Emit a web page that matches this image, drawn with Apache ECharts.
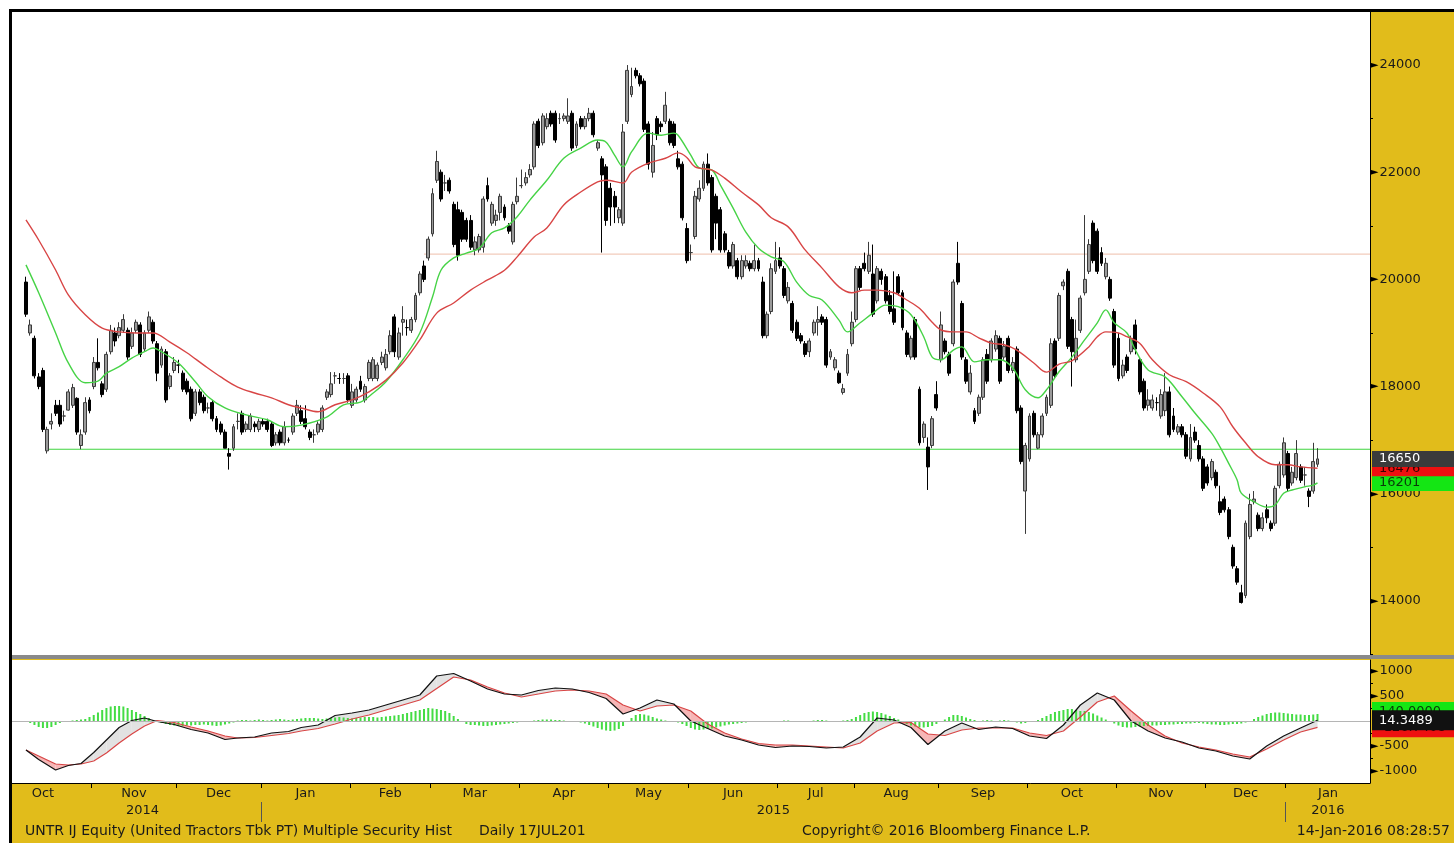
<!DOCTYPE html>
<html><head><meta charset="utf-8">
<script src="https://cdn.jsdelivr.net/npm/echarts@6/dist/echarts.min.js"></script>
<style>
html,body{margin:0;padding:0;background:#fff;width:1454px;height:843px;overflow:hidden}
#frame{position:absolute;left:9px;top:9px;width:1445px;height:834px;border-left:3px solid #000;border-top:3px solid #000;background:#e1bc1b;box-sizing:border-box}
#chart{position:absolute;left:0;top:0;width:1454px;height:843px}
#sep{position:absolute;left:12px;top:655px;width:1442px;height:4px;background:#8a8a8a}
</style></head>
<body>
<div id="frame"></div>
<div id="chart"></div>
<div id="sep"></div>
<script>
// ---- calendar (trading days per month) ----
const monthNames = ['Oct','Nov','Dec','Jan','Feb','Mar','Apr','May','Jun','Jul','Aug','Sep','Oct','Nov','Dec','Jan'];
const monthYears = [2014,2014,2014,2015,2015,2015,2015,2015,2015,2015,2015,2015,2015,2015,2015,2016];
const monthTradingDays = [23,20,20,21,19,21,21,19,21,18,20,21,21,21,19,20];
const firstBarOffset = 7; // first bar = 8th trading day of Oct 2014

// ---- daily candles [open, close, low, high] ----
const candles = [
[19950,19350,19300,20050],[19000,19150,18950,19250],[18900,18200,18150,18950],[18180,18000,17950,18250],
[18300,17200,17150,18350],[16800,17200,16750,17250],[17300,17350,17200,17500],[17650,17500,17450,17750],
[17650,17300,17250,17750],[17450,17450,17350,17550],[17560,17900,17550,17950],[17650,17980,17600,18050],
[17780,17150,17100,17800],[16900,17100,16830,17200],[17150,17700,17100,17800],[17750,17550,17500,17800],
[18000,18450,17950,18550],[18450,18350,18300,18900],[18050,17850,17800,18100],[17950,18600,17900,18650],
[18650,19050,18600,19150],[19000,18850,18750,19100],[18950,19100,18900,19200],[19050,19250,19000,19350],
[19050,18550,18500,19100],[18750,19000,18700,19100],[19050,19200,19000,19250],[19150,18600,18550,19200],
[18700,19000,18650,19050],[19050,19300,19000,19400],[19200,18850,18800,19250],[18800,18250,18100,18850],
[18400,18700,18350,18750],[18650,17750,17700,18700],[18000,18200,17950,18250],[18300,18450,18250,18550],
[18400,18400,18250,18500],[18250,17950,17900,18300],[18100,17900,17850,18150],[17950,17400,17350,18000],
[17500,17900,17450,17950],[17900,17700,17650,17950],[17800,17550,17500,17850],[17600,17600,17500,17700],
[17700,17400,17350,17750],[17400,17200,17150,17450],[17300,17150,17100,17350],[17150,16850,16850,17200],
[16750,16700,16450,16850],[16850,17250,16800,17300],[17350,17350,17200,17500],[17500,17150,17100,17550],
[17200,17300,17150,17350],[17200,17450,17150,17500],[17300,17250,17150,17350],[17200,17350,17150,17400],
[17350,17300,17250,17400],[17350,17200,17150,17400],[17300,16900,16870,17350],[16950,17100,16900,17150],
[17150,16950,16900,17200],[16950,17250,16900,17350],[17000,17000,16950,17050],[17150,17450,17100,17500],
[17500,17650,17450,17750],[17550,17350,17300,17650],[17400,17250,17200,17650],[17150,17050,17000,17200],
[17100,17100,16950,17200],[17150,17300,17100,17350],[17200,17600,17150,17650],[17800,17900,17750,17950],
[17850,18050,17800,18270],[18200,18200,18050,18270],[18150,18150,18050,18250],[18150,18150,18050,18250],
[18200,17750,17700,18250],[17650,17900,17600,18050],[17750,17950,17700,18000],[18100,17950,17900,18200],
[17750,18000,17700,18050],[18150,18450,18100,18500],[18150,18500,18100,18550],[18150,18400,18100,18450],
[18450,18550,18400,18650],[18350,18600,18300,18700],[18650,18950,18600,19050],[19300,18650,18550,19350],
[18550,19000,18500,19100],[19200,19250,18950,19500],[19100,19100,18950,19250],[19050,19250,19000,19300],
[19250,19700,19200,19750],[19750,20100,19700,20150],[20250,20000,19950,20350],[20400,20750,20350,20800],
[20850,21600,20800,21700],[21850,22200,21800,22400],[22000,21500,21450,22050],[21800,21800,21650,21950],
[21850,21650,21600,21900],[21400,20650,20600,21450],[21300,20450,20350,21450],[21250,20750,20700,21300],
[21100,20750,20700,21150],[21100,20600,20550,21200],[20550,20700,20450,20800],[20550,20800,20500,20850],
[20600,21500,20500,21550],[21750,21500,21450,21900],[21050,21400,21000,21450],[21100,21200,21000,21300],
[21250,21550,21100,21600],[21350,21150,21100,21400],[21000,20900,20850,21050],[20700,21400,20650,21450],
[21450,21550,21400,21900],[21750,21750,21700,22050],[21800,21900,21750,22000],[21950,22050,21900,22150],
[22100,22900,22050,22950],[22950,22500,22450,23000],[22550,23050,22500,23100],[22850,23000,22800,23100],
[23100,22900,22850,23150],[23100,22600,22550,23150],[23000,23000,22900,23100],[23000,23050,22950,23100],
[22950,23050,22900,23380],[23100,22450,22400,23150],[22500,22900,22450,22950],[23000,22850,22800,23050],
[22850,23000,22800,23050],[23000,23100,22950,23200],[23100,22700,22650,23150],[22450,22550,22400,22600],
[22250,21950,20500,22300],[22100,21100,21000,22150],[21700,21350,21000,21800],[21550,21350,21050,21650],
[21150,21300,21050,21350],[21050,22750,21000,22900],[22950,23900,22900,24000],[23450,23600,23400,23950],
[23900,23800,23750,23950],[23800,23650,23600,23850],[23700,22800,22750,23750],[22900,22150,22050,22950],
[22000,22500,21900,22750],[23000,22700,22600,23050],[22900,22850,22750,22950],[22950,23250,22900,23500],
[22950,22550,22500,23000],[22900,22500,22450,22950],[22250,22100,22050,22400],[22150,21150,21100,22200],
[20950,20350,20300,21050],[20500,20500,20350,20650],[20800,21550,20750,21650],[21500,21700,21450,21850],
[21700,22150,21650,22200],[22150,21800,21750,22350],[21900,20550,20500,21950],[21550,21050,20750,21600],
[21300,20550,20500,21350],[20850,20550,20500,20900],[20500,20250,20200,20550],[20250,20650,20200,20700],
[20350,20050,20000,20400],[20050,20350,20000,20450],[20250,20350,20200,20450],[20300,20200,20150,20350],
[20200,20350,20150,20650],[20350,20200,20150,20400],[19950,18950,18900,20050],[18950,19350,18900,19400],
[19400,20200,19350,20300],[20150,20350,20100,20700],[20400,20250,20200,20600],[20200,19700,19650,20250],
[19600,19850,19550,19950],[19550,19050,19000,19600],[19200,18900,18850,19250],[18950,18850,18800,19000],
[18800,18600,18550,18850],[18650,18850,18550,18900],[19000,19200,18950,19250],[19200,19250,18950,19500],
[19300,19200,19150,19350],[19250,18400,18350,19300],[18550,18650,18500,18700],[18350,18500,18300,18550],
[18250,18070,18050,18300],[17890,17960,17850,18050],[18250,18600,18200,18700],[18800,19200,18750,19400],
[19250,20200,19200,20250],[20200,19850,19800,20250],[20300,20200,20150,20500],[20150,20450,20100,20700],
[20100,19350,19300,20650],[19600,20200,19550,20250],[20150,20000,19900,20200],[20050,19600,19550,20100],
[19700,19400,19350,19800],[19450,19200,19150,20150],[20050,19750,19700,20100],[19750,19100,19050,19800],
[19000,18600,18550,19050],[18550,18900,18500,18950],[19250,18550,18500,19300],[17950,16950,16900,18000],
[17050,17300,16950,17350],[16870,16500,16070,17050],[16900,17400,16850,17450],[17850,17600,17550,18100],
[18500,19150,18450,19400],[18850,18650,18600,18900],[18600,18250,18200,18650],[18800,19950,18750,20000],
[20300,19950,19900,20700],[19550,18550,18500,19600],[18500,18100,18050,18550],[17900,18250,17850,18400],
[17550,17350,17300,17600],[17500,17800,17450,17850],[17800,18500,17750,18550],[18600,18100,18050,18700],
[18500,18850,18450,18900],[18700,18950,18650,19050],[18900,18100,18050,18950],[18550,18750,18500,18850],
[18900,18300,18250,18950],[18300,18450,18250,18550],[18700,17550,17500,18750],[17600,16600,16550,17650],
[16050,16900,15250,16950],[16650,17450,16600,17500],[17500,17100,17050,17550],[16850,17100,16830,17150],
[17100,17450,17050,17500],[17500,17800,17450,17850],[17650,18800,17600,18900],[18850,18200,18150,18900],
[18900,19700,18850,19750],[19880,19950,19800,20000],[20150,18750,18700,20200],[19250,18650,18000,19300],
[18500,18900,18450,19250],[19050,19650,19000,19700],[19750,20000,19700,21200],[20150,20650,20100,20750],
[21050,20350,20300,21100],[20900,20150,20100,20950],[20500,20300,20250,20600],[20050,20300,20000,20400],
[20000,19650,19600,20050],[19400,18400,18350,19450],[18900,18150,18100,19000],[18200,18400,18150,18500],
[18550,18300,18250,18600],[18650,18900,18600,18950],[19150,18700,18600,19250],[18500,17900,17850,18550],
[18100,17600,17550,18150],[17650,17750,17550,17950],[17600,17750,17550,17850],[17700,17700,17550,17800],
[17450,17850,17400,17950],[17550,17900,17450,18250],[17900,17100,17050,18000],[17450,17200,17150,17600],
[17150,17250,17100,17300],[17250,17100,17050,17300],[17100,16700,16650,17150],[16650,17050,16600,17300],
[17150,17000,16950,17250],[16900,16650,16600,17000],[16650,16100,16050,16700],[16500,16200,16150,16550],
[16300,16600,16250,16650],[16400,16150,16100,16450],[15850,15650,15600,16150],[15900,15700,15650,15950],
[15700,15200,15150,15750],[15000,14650,14600,15050],[14600,14350,14300,14650],[14150,13970,13950,14300],
[14100,15450,14050,15500],[15200,15800,15150,16000],[15850,15900,15800,16050],[15600,15350,15300,15650],
[15350,15550,15300,15650],[15700,15550,15450,15800],[15450,15350,15300,15500],[15450,16100,15400,16150],
[16150,16550,16100,16600],[16350,16950,16300,17050],[16750,16100,16050,16800],[16200,16400,16150,16500],
[16300,16750,16250,17000],[16500,16250,16200,16550],[16350,16350,16150,16500],[16050,15950,15750,16100],
[16050,16600,16000,16950],[16550,16650,16500,16850]
];

// ---- moving averages [barIndex, value] ----
const greenMA = [[0,20270],[3,19750],[7,19000],[10,18440],[14,18070],[17,18100],[19,18250],[22,18370],[25,18530],[28,18650],[30,18720],[32,18650],[36,18440],[40,18090],[43,17810],[47,17600],[52,17470],[57,17380],[61,17250],[65,17280],[71,17430],[75,17660],[79,17710],[82,17880],[85,18090],[89,18500],[93,19000],[96,19670],[98,20170],[101,20400],[104,20490],[107,20580],[110,20870],[113,20960],[116,21170],[119,21480],[123,21850],[127,22260],[131,22450],[135,22600],[137,22560],[139,22320],[141,22100],[143,22380],[147,22730],[150,22690],[153,22730],[154,22690],[157,22320],[159,22080],[162,22040],[164,21760],[167,21330],[170,20880],[173,20580],[176,20420],[179,20330],[182,19950],[185,19700],[188,19615],[192,19240],[194,19020],[197,19190],[200,19370],[203,19520],[206,19490],[209,19340],[212,18930],[214,18550],[216,18500],[219,18680],[221,18740],[224,18460],[227,18500],[230,18500],[233,18350],[236,17940],[239,17790],[241,17940],[244,18280],[247,18550],[250,18870],[253,19190],[255,19430],[257,19190],[260,19000],[262,18680],[265,18310],[269,18180],[273,17810],[276,17510],[280,17130],[282,16870],[284,16570],[286,16260],[287,16010],[290,15850],[293,15750],[295,15790],[297,16010],[299,16070],[302,16130],[304,16160],[305,16201]];
const redMA = [[0,21110],[3,20735],[7,20175],[10,19710],[14,19340],[18,19090],[22,19020],[26,19000],[30,19000],[34,18830],[38,18630],[42,18400],[46,18180],[50,17990],[54,17880],[58,17790],[62,17660],[65,17600],[69,17530],[73,17660],[77,17750],[81,17900],[85,18120],[89,18440],[93,18870],[97,19370],[101,19560],[105,19800],[109,19990],[113,20170],[116,20420],[120,20790],[123,20960],[127,21390],[131,21630],[135,21820],[137,21850],[141,21800],[143,22000],[147,22170],[151,22260],[154,22360],[156,22280],[158,22100],[162,22040],[165,21890],[169,21630],[173,21390],[176,21150],[180,20980],[184,20550],[188,20210],[192,19860],[195,19750],[198,19800],[201,19800],[205,19750],[208,19615],[211,19460],[214,19200],[216,19060],[219,19020],[222,19020],[225,18910],[228,18810],[231,18780],[234,18680],[238,18440],[241,18270],[244,18420],[247,18480],[251,18740],[253,18930],[255,19020],[258,19000],[260,18930],[263,18810],[266,18500],[270,18220],[274,18090],[278,17880],[282,17620],[285,17250],[288,16950],[291,16690],[295,16540],[298,16540],[301,16500],[305,16476]];

// ---- horizontal trend lines ----
const trendLevels = [16830, 20470];
const trendStartBars = [4.5, 94];
const trendColors = ['#3fd43f', '#f2cbbb'];

// ---- MACD panel ----
const macdBars = [0,3,7,10,13,16,19,22,25,28,31,35,39,43,47,50,54,58,62,65,69,73,77,81,85,89,93,97,101,105,109,113,117,121,125,129,133,137,141,145,149,153,157,161,165,169,173,177,181,185,189,193,197,201,205,209,213,217,221,225,229,233,237,241,245,249,253,257,261,265,269,273,277,281,285,289,293,297,301,305];
const macdLine = [-580,-770,-980,-890,-850,-630,-380,-130,10,60,-10,-70,-170,-240,-370,-340,-320,-240,-210,-130,-80,110,160,220,320,420,520,900,950,800,640,540,520,610,660,640,570,450,140,260,420,340,0,-150,-300,-380,-480,-530,-500,-510,-540,-520,-320,60,20,-130,-470,-200,-40,-170,-120,-150,-300,-350,-80,320,560,420,0,-200,-340,-420,-540,-600,-700,-760,-500,-300,-140,14.3489];
const signalLine = [-580,-700,-860,-880,-860,-800,-640,-440,-260,-100,10,-30,-120,-200,-300,-340,-330,-290,-250,-200,-150,-60,40,120,220,320,420,650,880,820,680,560,480,540,600,620,600,540,320,200,300,320,200,-60,-240,-360,-450,-480,-480,-500,-520,-540,-440,-200,-40,-30,-260,-290,-180,-140,-140,-140,-240,-290,-200,80,380,500,200,-80,-300,-440,-520,-580,-660,-720,-560,-380,-220,-126.7408];
const histogram = [
-20,-40,-80,-120,-140,-140,-120,-80,-40,
-10,0,10,20,30,
40,80,120,170,220,260,290,300,300,290,260,220,180,140,100,60,20,
-10,
-40,-60,-80,-90,-100,-100,-90,-90,-80,-80,-70,-80,-90,-100,-90,-70,-50,-30,
10,20,20,10,20,30,20,10,20,30,40,30,20,
30,40,50,60,60,60,50,40,50,60,70,80,70,60,50,60,70,80,80,80,70,80,90,100,110,120,
140,160,180,200,220,240,260,250,240,220,200,
160,100,40,-20,-60,-80,
-80,-90,-100,-100,-90,-80,-70,-60,-50,-40,-30,-20,-10,
0,10,20,30,30,30,20,20,10,0,-10,-20,-30,
-50,-80,-110,-140,-170,-190,-200,-190,-160,-100,
-20,60,120,140,130,110,80,50,30,10,0,-10,-30,-60,
-100,-140,-170,-180,-170,-160,-150,-130,-110,-90,-70,-60,
-50,-40,-30,-20,-10,0,0,-10,-20,-10,0,10,10,0,-10,-20,-10,0,10,20,20,10,0,-10,0,10,20,
40,80,120,160,180,190,180,160,130,100,60,30,
-20,-60,-90,-110,-130,-130,-120,-100,-60,-20,
30,80,120,120,100,70,40,20,
0,10,20,10,0,10,20,10,-10,-30,-50,-40,-20,0,20,
60,100,140,180,200,220,240,240,220,200,200,180,150,110,70,30,-10,
-50,-90,-120,-130,-130,-120,-110,-100,-100,-90,-90,-80,-80,-70,-70,-60,-60,-50,-50,-40,-40,
-50,-60,-70,-70,-80,-80,-70,-60,-60,-50,-30,
0,40,80,110,140,160,170,170,160,150,140,130,130,120,120,130,140
];

// ---- axis tick values ----
const priceTicks = [14000,16000,18000,20000,22000,24000];
const priceMinorTicks = [13000,15000,17000,19000,21000,23000];
const macdTicks = [-1000,-500,500,1000];
const macdMinorTicks = [-750,-250,250,750];

// ================= build =================
const FONT = 'DejaVu Sans';
const X_MIN = -3.3, X_MAX = 317.4;

const monthBounds = [], monthCenters = [], monthLabelMap = {};
let start = -firstBarOffset - 0.5;
const yearSpan = {};
monthTradingDays.forEach((d, i) => {
  const end = start + d;
  const c = (start + end) / 2;
  monthCenters.push(c);
  monthLabelMap[Math.round(c * 10)] = monthNames[i];
  if (i > 0) monthBounds.push(start);
  const y = monthYears[i];
  if (!yearSpan[y]) yearSpan[y] = [start, end]; else yearSpan[y][1] = end;
  start = end;
});
const yearCenters = [], yearLabelMap = {}, yearBounds = [];
Object.keys(yearSpan).forEach((y, i) => {
  const a = Math.max(yearSpan[y][0], -0.5), b = Math.min(yearSpan[y][1], X_MAX);
  const c = (a + b) / 2;
  yearCenters.push(c);
  yearLabelMap[Math.round(c * 10)] = y;
  if (i > 0) yearBounds.push(yearSpan[y][0]);
});

const candleData = candles.map((c, i) => [i, c[0], c[1], c[2], c[3]]);
const lastIdx = candles.length - 1;
const lastClose = candles[lastIdx][1];
const macdPts = macdBars.map((k, i) => [k, macdLine[i]]);
const sigPts = macdBars.map((k, i) => [k, signalLine[i]]);
const fillSegs = macdBars.slice(0, -1).map((k, i) =>
  [k, macdLine[i], signalLine[i], macdBars[i + 1], macdLine[i + 1], signalLine[i + 1]]);
const histData = histogram.map((v, i) => [i, v]);

const rightLabel = {
  margin: 0,
  fontFamily: FONT,
  formatter: v => '{t|►}{v|' + v + '}',
  rich: { t: { fontSize: 11, color: '#000', padding: [0, 1, 0, 0] }, v: { fontSize: 13, color: '#1a1a1a', fontFamily: FONT } }
};

function tagSeries(xIdx, yIdx, value, text, bg, fg, z, pad) {
  return {
    type: 'line', xAxisIndex: xIdx, yAxisIndex: yIdx, z: z, silent: true, clip: false,
    data: [[lastIdx, value]], showSymbol: false, symbol: 'none', lineStyle: { width: 0, color: 'rgba(0,0,0,0)' },
    markLine: {
      symbol: 'none', silent: true, animation: false,
      lineStyle: { color: 'rgba(0,0,0,0)', width: 1, opacity: 1 },
      label: { show: true, position: 'end', distance: 2, formatter: text, color: fg, backgroundColor: bg,
               opacity: 1, padding: pad || [2, 40, 1, 7], fontSize: 13, fontFamily: FONT },
      data: [{ yAxis: value }]
    }
  };
}

function fillRender(params, api) {
  const k0 = api.value(0), m0 = api.value(1), s0 = api.value(2);
  const k1 = api.value(3), m1 = api.value(4), s1 = api.value(5);
  const d0 = m0 - s0, d1 = m1 - s1;
  const col = d => d >= 0 ? '#e2e2e2' : '#f6b6b6';
  const poly = (pts, c) => ({ type: 'polygon', shape: { points: pts.map(p => api.coord(p)) },
                              style: { fill: c, stroke: null } });
  if (d0 * d1 >= 0) {
    return poly([[k0, m0], [k1, m1], [k1, s1], [k0, s0]], col(d0 + d1));
  }
  const t = d0 / (d0 - d1);
  const kx = k0 + t * (k1 - k0), vx = m0 + t * (m1 - m0);
  return { type: 'group', children: [
    poly([[k0, m0], [kx, vx], [k0, s0]], col(d0)),
    poly([[kx, vx], [k1, m1], [k1, s1]], col(d1))
  ] };
}

const footStyle = { fontSize: 14, fontWeight: 'normal', color: '#1a1a1a', fontFamily: FONT };
const macdTagPad = [4, 40, 3, 7];

const chart = echarts.init(document.getElementById('chart'), null, { renderer: 'canvas' });
chart.setOption({
  animation: false,
  backgroundColor: 'transparent',
  title: [
    { text: 'UNTR IJ Equity (United Tractors Tbk PT) Multiple Security Hist', left: 25, top: 824, padding: 0, textStyle: footStyle },
    { text: 'Daily 17JUL201', left: 479, top: 824, padding: 0, textStyle: footStyle },
    { text: 'Copyright\u00a9 2016 Bloomberg Finance L.P.', left: 802, top: 824, padding: 0, textStyle: footStyle },
    { text: '14-Jan-2016 08:28:57', right: 4, top: 824, padding: 0, textStyle: footStyle }
  ],
  grid: [
    { left: 12, top: 12, width: 1358, height: 643, show: true, backgroundColor: '#fff', borderWidth: 0 },
    { left: 12, top: 660, width: 1358, height: 123, show: true, backgroundColor: '#fff', borderWidth: 0 }
  ],
  xAxis: [
    { type: 'value', gridIndex: 0, min: X_MIN, max: X_MAX, show: false, axisLine: { onZero: false }, splitLine: { show: false } },
    { type: 'value', gridIndex: 1, min: X_MIN, max: X_MAX, position: 'bottom',
      axisLine: { show: true, onZero: false, lineStyle: { color: '#000', width: 1 } },
      axisTick: { show: true, customValues: monthBounds, length: 5, lineStyle: { color: '#000', width: 1 } },
      axisLabel: { customValues: monthCenters, margin: 4, fontSize: 13, color: '#1a1a1a', fontFamily: FONT,
                   formatter: v => monthLabelMap[Math.round(v * 10)] || '' },
      splitLine: { show: false } },
    { type: 'value', gridIndex: 1, min: X_MIN, max: X_MAX, position: 'bottom', offset: 19,
      axisLine: { show: false, onZero: false },
      axisTick: { show: true, customValues: yearBounds, length: 20, lineStyle: { color: '#555', width: 1 } },
      axisLabel: { customValues: yearCenters, margin: 2, fontSize: 13, color: '#1a1a1a', fontFamily: FONT,
                   formatter: v => yearLabelMap[Math.round(v * 10)] || '' },
      splitLine: { show: false } }
  ],
  yAxis: [
    { type: 'value', gridIndex: 0, position: 'right', min: 12990, max: 24990,
      axisLine: { show: true, onZero: false, lineStyle: { color: '#000', width: 1 } },
      axisTick: { show: false },
      axisLabel: Object.assign({ customValues: priceTicks }, rightLabel),
      splitLine: { show: false } },
    { type: 'value', gridIndex: 0, position: 'right', min: 12990, max: 24990,
      axisLine: { show: false, onZero: false },
      axisTick: { show: true, customValues: priceMinorTicks, length: 3, lineStyle: { color: '#000' } },
      axisLabel: { show: false }, splitLine: { show: false } },
    { type: 'value', gridIndex: 1, position: 'right', min: -1240, max: 1220,
      axisLine: { show: true, onZero: false, lineStyle: { color: '#000', width: 1 } },
      axisTick: { show: false },
      axisLabel: Object.assign({ customValues: macdTicks }, rightLabel),
      splitLine: { show: false } },
    { type: 'value', gridIndex: 1, position: 'right', min: -1240, max: 1220,
      axisLine: { show: false, onZero: false },
      axisTick: { show: true, customValues: macdMinorTicks, length: 3, lineStyle: { color: '#000' } },
      axisLabel: { show: false }, splitLine: { show: false } }
  ],
  series: [
    ...trendLevels.map((lv, i) => ({
      type: 'line', xAxisIndex: 0, yAxisIndex: 0, silent: true, z: 1,
      data: [[trendStartBars[i], lv], [X_MAX, lv]], showSymbol: false,
      lineStyle: { color: trendColors[i], width: 1.2 }
    })),
    { name: 'UNTR', type: 'candlestick', xAxisIndex: 0, yAxisIndex: 0, data: candleData,
      encode: { x: 0, y: [1, 2, 3, 4] }, barWidth: 3.4,
      itemStyle: { color: '#9a9a9a', color0: '#000', borderColor: '#3a3a3a', borderColor0: '#000', borderWidth: 1 } },
    { name: 'MA short', type: 'line', xAxisIndex: 0, yAxisIndex: 0, data: greenMA, showSymbol: false,
      smooth: 0.35, lineStyle: { color: '#46d346', width: 1.4 } },
    { name: 'MA long', type: 'line', xAxisIndex: 0, yAxisIndex: 0, data: redMA, showSymbol: false,
      smooth: 0.35, lineStyle: { color: '#d84545', width: 1.4 } },
    tagSeries(0, 0, greenMA[greenMA.length - 1][1], String(greenMA[greenMA.length - 1][1]), '#14e614', '#0a3a0a', 20),
    tagSeries(0, 0, redMA[redMA.length - 1][1], String(redMA[redMA.length - 1][1]), '#ee1010', '#3a0000', 21),
    tagSeries(0, 0, lastClose, String(lastClose), '#3b3b3b', '#ffffff', 22),

    { type: 'custom', xAxisIndex: 1, yAxisIndex: 2, data: fillSegs, renderItem: fillRender, silent: true,
      encode: { x: [0, 3], y: [1, 2, 4, 5] }, z: 1 },
    { name: 'hist', type: 'bar', xAxisIndex: 1, yAxisIndex: 2, data: histData, barWidth: 2,
      itemStyle: { color: '#44dc44' }, z: 2,
      markLine: { symbol: 'none', silent: true, label: { show: false },
        lineStyle: { color: '#b5b5b5', width: 1, type: 'solid' }, data: [{ yAxis: 0 }] } },
    { name: 'Signal', type: 'line', xAxisIndex: 1, yAxisIndex: 2, data: sigPts, showSymbol: false,
      lineStyle: { color: '#d84545', width: 1.2 }, z: 3 },
    { name: 'MACD', type: 'line', xAxisIndex: 1, yAxisIndex: 2, data: macdPts, showSymbol: false,
      lineStyle: { color: '#111', width: 1.2 }, z: 4 },
    tagSeries(1, 2, histogram[histogram.length - 1] + 40, histogram[histogram.length - 1].toFixed(4), '#14e614', '#0a3a0a', 20, macdTagPad),
    tagSeries(1, 2, signalLine[signalLine.length - 1], signalLine[signalLine.length - 1].toFixed(4), '#ee1010', '#3a0000', 21, macdTagPad),
    tagSeries(1, 2, macdLine[macdLine.length - 1], macdLine[macdLine.length - 1].toFixed(4), '#111111', '#ffffff', 22, macdTagPad)
  ]
});
</script>
</body></html>
